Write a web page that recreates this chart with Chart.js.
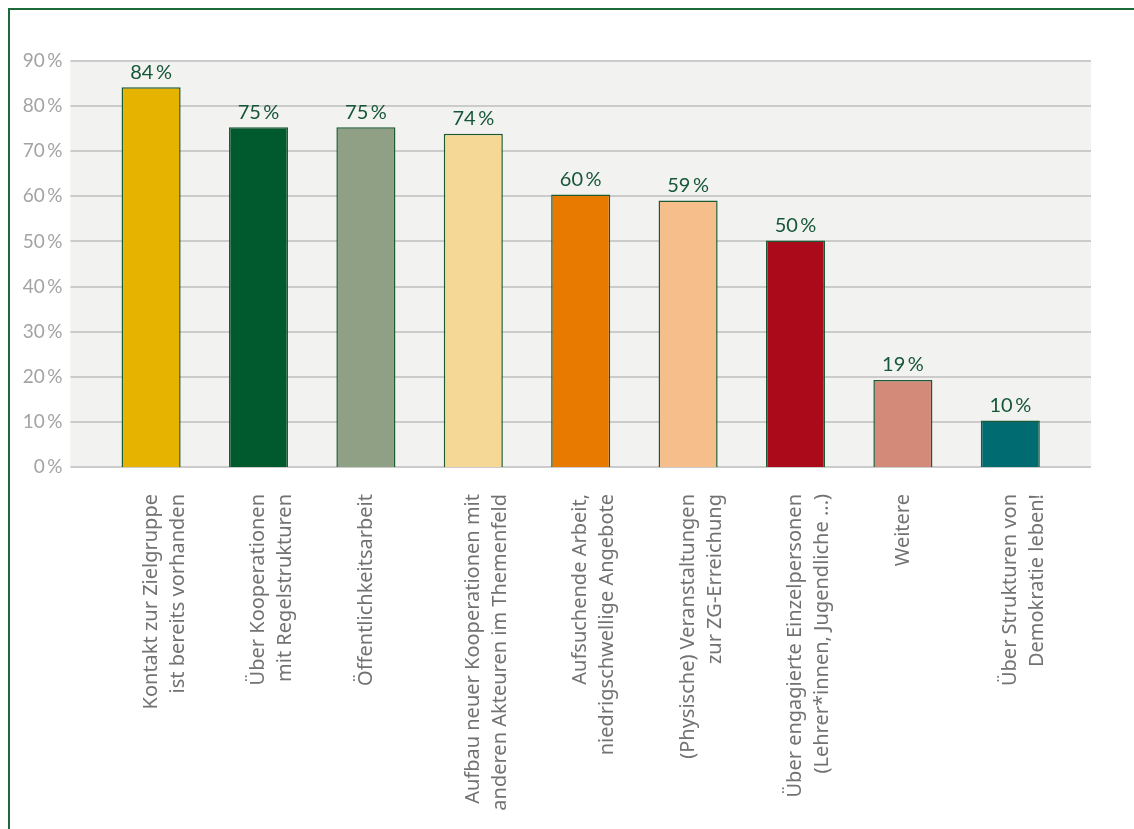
<!DOCTYPE html>
<html>
<head>
<meta charset="utf-8">
<script src="https://cdn.jsdelivr.net/npm/chart.js@4"></script>
<style>
  html, body { margin: 0; padding: 0; background: #fff; overflow: hidden; }
  #wrap { position: relative; width: 1134px; height: 829px; }
  #frame {
    position: absolute; left: 8px; top: 8px; width: 1140px; height: 840px;
    border: 2.5px solid #1c6a3a; box-sizing: border-box;
  }
  canvas { position: absolute; left: 0; top: 0; }
</style>
</head>
<body>
<div id="wrap">
  <div id="frame"></div>
  <canvas id="bar-chart" width="1134" height="829"></canvas>
</div>
<script>
const categories = [
  ['Kontakt zur Zielgruppe', 'ist bereits vorhanden'],
  ['Über Kooperationen', 'mit Regelstrukturen'],
  'Öffentlichkeitsarbeit',
  ['Aufbau neuer Kooperationen mit', 'anderen Akteuren im Themenfeld'],
  ['Aufsuchende Arbeit,', 'niedrigschwellige Angebote'],
  ['(Physische) Veranstaltungen', 'zur ZG-Erreichung'],
  ['Über engagierte Einzelpersonen', '(Lehrer*innen, Jugendliche ...)'],
  'Weitere',
  ['Über Strukturen von', 'Demokratie leben!']
];
const shares = [84.2, 75.3, 75.3, 73.9, 60.4, 59.1, 50.2, 19.3, 10.3];
const shareLabels = ['84', '75', '75', '74', '60', '59', '50', '19', '10'];
const barColors = ['#e6b400', '#005a2e', '#8fa084', '#f5d896', '#e87a00', '#f5be8a', '#aa0a19', '#d48a78', '#006b70'];
const yTicks = [0, 10, 20, 30, 40, 50, 60, 70, 80, 90];

// grey plot background + gridlines, a bit wider than the bar area
const plotBackground = {
  id: 'plotBackground',
  beforeDraw(chart) {
    const { ctx, chartArea, scales } = chart;
    const left = chartArea.left - 27;
    const right = chartArea.right + 27;
    ctx.save();
    ctx.fillStyle = '#f2f2f1';
    ctx.fillRect(left, chartArea.top, right - left, chartArea.bottom - chartArea.top);
    ctx.strokeStyle = '#cbcbcb';
    ctx.lineWidth = 2;
    yTicks.forEach(v => {
      const y = Math.round(scales.y.getPixelForValue(v));
      ctx.beginPath();
      ctx.moveTo(left, y);
      ctx.lineTo(right, y);
      ctx.stroke();
    });
    ctx.restore();
  }
};

const valueLabels = {
  id: 'valueLabels',
  afterDatasetsDraw(chart) {
    const { ctx } = chart;
    const meta = chart.getDatasetMeta(0);
    ctx.save();
    ctx.font = '20px Lato';
    ctx.fillStyle = '#16563a';
    ctx.textAlign = 'center';
    ctx.textBaseline = 'bottom';
    meta.data.forEach((bar, i) => {
      ctx.fillText(shareLabels[i] + '\u2009%', bar.x, bar.y - 5);
    });
    ctx.restore();
  }
};

function drawChart() {
  const ctx = document.getElementById('bar-chart').getContext('2d');
  window.chart = new Chart(ctx, {
    type: 'bar',
    data: {
      labels: categories,
      datasets: [{
        data: shares,
        backgroundColor: barColors,
        borderColor: '#1c5a34',
        borderWidth: 1.5,
        barPercentage: 0.55,
        categoryPercentage: 1
      }]
    },
    options: {
      responsive: false,
      animation: false,
      layout: { padding: { top: 61, right: 70, left: 0, bottom: 0 } },
      plugins: {
        legend: { display: false },
        tooltip: { enabled: false }
      },
      scales: {
        x: {
          grid: { display: false },
          border: { display: false },
          afterFit: (scale) => { scale.height = 362; },
          ticks: {
            color: '#727272',
            font: { family: '"Noto Sans", "Open Sans", sans-serif', size: 20, lineHeight: 1.35 },
            minRotation: 90,
            maxRotation: 90,
            padding: 19,
            autoSkip: false
          }
        },
        y: {
          min: 0,
          max: 90,
          grid: { display: false },
          border: { display: false },
          afterFit: (scale) => { scale.width = 97.4; },
          ticks: {
            stepSize: 10,
            color: '#a3a3a3',
            font: { family: 'Lato', size: 19 },
            padding: 27,
            callback: (value) => value + '\u2009%'
          }
        }
      }
    },
    plugins: [plotBackground, valueLabels]
  });
}

Promise.all([
  document.fonts.load('20px "Noto Sans"'),
  document.fonts.load('19px Lato')
]).then(drawChart, drawChart);
</script>
</body>
</html>
